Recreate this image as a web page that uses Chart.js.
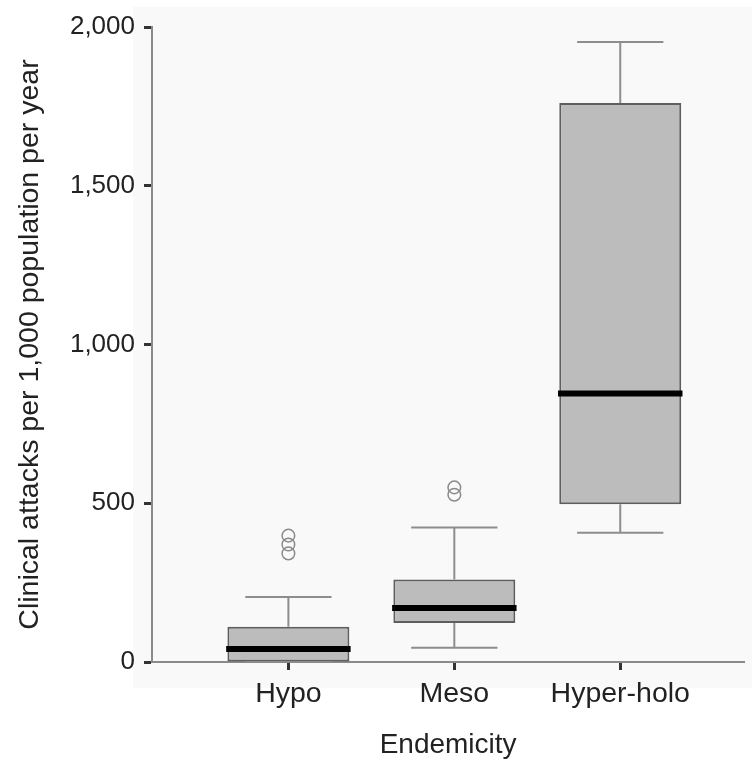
<!DOCTYPE html>
<html><head><meta charset="utf-8">
<script src="https://cdn.jsdelivr.net/npm/chart.js@4"></script>
<style>html,body{margin:0;padding:0;background:#fff}#wrap{width:752px;height:764px}</style>
</head><body><div id="wrap"><canvas id="c" width="752" height="764"></canvas></div>
<script>
const categories = ['Hypo', 'Meso', 'Hyper-holo'];
const whiskerLow = [0, 45, 407];
const q1 = [0, 123, 497];
const median = [41, 170, 846];
const q3 = [111, 260, 1761];
const whiskerHigh = [205, 424, 1953];
const outliers = [[398, 370, 342], [550, 527], []];
const yTicks = [0, 500, 1000, 1500, 2000];
const xTitle = 'Endemicity';
const yTitle = 'Clinical attacks per 1,000 population per year';

const capHalf = 0.26, medHalf = 0.375;
const whiskerStyle = {type: 'line', borderColor: '#8d8d8d', borderWidth: 2, pointRadius: 0, fill: false, tension: 0, order: 2};
const datasets = [];
datasets.push({
  type: 'bar',
  data: categories.map((c, i) => ({x: i + 1, y: [q1[i], q3[i]]})),
  backgroundColor: '#bcbcbc', borderColor: '#5e5e5e', borderWidth: 2, borderSkipped: false,
  barPercentage: 0.735, categoryPercentage: 1, order: 3
});
categories.forEach((c, i) => {
  const x = i + 1;
  datasets.push(Object.assign({}, whiskerStyle, {data: [
    {x: x, y: q3[i]}, {x: x, y: whiskerHigh[i]}, {x: x - capHalf, y: whiskerHigh[i]}, {x: x + capHalf, y: whiskerHigh[i]}]}));
  datasets.push(Object.assign({}, whiskerStyle, {data: [
    {x: x, y: q1[i]}, {x: x, y: whiskerLow[i]}, {x: x - capHalf, y: whiskerLow[i]}, {x: x + capHalf, y: whiskerLow[i]}]}));
  datasets.push({type: 'line', data: [{x: x - medHalf, y: median[i]}, {x: x + medHalf, y: median[i]}],
    borderColor: '#000', borderWidth: 6, pointRadius: 0, fill: false, tension: 0, borderCapStyle: 'butt', order: 0});
});
datasets.push({
  type: 'scatter',
  data: outliers.flatMap((arr, i) => arr.map(v => ({x: i + 1, y: v}))),
  pointRadius: 6.3, pointBackgroundColor: 'rgba(255,255,255,0)', pointBorderColor: '#8a8a8a', pointBorderWidth: 1.5, order: 1
});

const panelBg = {
  id: 'panelBg',
  beforeDraw(chart) {
    const {ctx, chartArea: a, width} = chart;
    ctx.save();
    ctx.fillStyle = '#f9f9f9';
    ctx.fillRect(a.left - 19, a.top - 20, width - (a.left - 19), a.bottom + 26 - (a.top - 20));
    ctx.restore();
  }
};

new Chart(document.getElementById('c'), {
  type: 'bar',
  data: {datasets},
  plugins: [panelBg],
  options: {
    responsive: false, animation: false,
    layout: {padding: {top: 27, right: 2, left: 0, bottom: 0}},
    plugins: {legend: {display: false}, tooltip: {enabled: false}},
    scales: {
      x: {
        type: 'linear', min: 0.178, max: 3.747, offset: false,
        afterBuildTicks: s => { s.ticks = categories.map((c, i) => ({value: i + 1})); },
        afterFit: s => { s.height = 102; },
        ticks: {callback: v => categories[v - 1] ?? '', font: {family: 'Liberation Sans', size: 28.5}, color: '#222', padding: 7, maxRotation: 0, autoSkip: false},
        grid: {offset: false, drawOnChartArea: false, drawTicks: true, tickLength: 8, tickColor: '#333', tickWidth: 3},
        border: {color: '#8a8a8a', width: 2},
        title: {display: true, text: xTitle, font: {family: 'Liberation Sans', size: 28}, color: '#222', padding: {top: 0, bottom: 2}}
      },
      y: {
        type: 'linear', min: 0, max: 2000,
        afterBuildTicks: s => { s.ticks = yTicks.map(v => ({value: v})); },
        afterFit: s => { s.width = 152; },
        ticks: {callback: v => v.toLocaleString('en-US'), font: {family: 'Liberation Sans', size: 26}, color: '#222', padding: 9},
        grid: {drawOnChartArea: false, drawTicks: true, tickLength: 8, tickColor: '#333', tickWidth: 3},
        border: {color: '#8a8a8a', width: 2},
        title: {display: true, text: yTitle, font: {family: 'Liberation Sans', size: 28.5}, color: '#222', padding: {top: 13, bottom: 0}}
      }
    }
  }
});
</script>
</body></html>
